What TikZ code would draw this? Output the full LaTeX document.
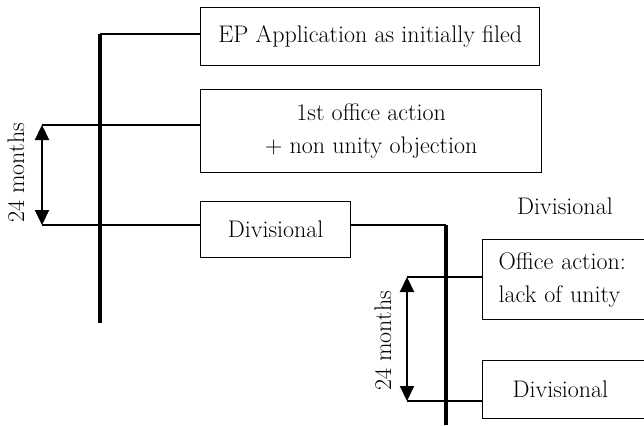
\documentclass[tikz,border=0pt]{standalone}
\usetikzlibrary{arrows.meta}
\begin{document}
\begin{tikzpicture}[x=1pt,y=-1pt,
  box/.style={draw, line width=1.4pt, rectangle, inner sep=0pt, anchor=north west},
  link/.style={line width=1.3pt},
  timeline/.style={line width=3.2pt},
  span/.style={line width=2.2pt, {Triangle[width=14pt,length=15pt]}-{Triangle[width=14pt,length=15pt]}},
  txt/.style={font=\fontsize{24}{33}\selectfont}]
\useasboundingbox (0,0) rectangle (644,425);
\clip (0,0) rectangle (644,425);

% boxes of the parent application
\node[box, minimum width=339, minimum height=58, txt] (ep) at (200,7) {EP Application as initially filed};
\node[box, minimum width=341, minimum height=83, txt, align=center] (oa) at (200,89) {1st office action\\+ non unity objection};
\node[box, minimum width=150, minimum height=56, txt] (div) at (200,201) {Divisional};

% boxes of the divisional application
\node[box, minimum height=80, text width=146, inner xsep=16pt, align=left, txt] (oa2) at (482,239) {Office action:\\lack of unity};
\node[box, minimum height=58, text width=118, inner xsep=30pt, align=left, txt] (div2) at (482,360) {Divisional};
\node[txt] (divlabel) at (565,206) {Divisional};

% period labels
\node[txt, rotate=90] (m1) at (16,173) {24 months};
\node[txt, rotate=90] (m2) at (383,341) {24 months};

% timeline ends and period ends
\coordinate (t1top) at (100,34);
\coordinate (t1bot) at (100,323);
\coordinate (t2top) at (446,225);
\coordinate (t2bot) at (446,425);
\coordinate (s1a) at (42,125);
\coordinate (s1b) at (42,225);
\coordinate (s2a) at (407,277);
\coordinate (s2b) at (407,401);

\draw[timeline] (t1top) -- (t1bot);
\draw[timeline] (t2top) -- (t2bot);
\draw[link] (t1top) -- (ep.west |- t1top);
\draw[link] (s1a) -- (oa.west |- s1a);
\draw[link] (s1b) -- (div.west |- s1b);
\draw[link] (div.east |- s1b) -- (t2top);
\draw[link] (s2a) -- (oa2.west |- s2a);
\draw[link] (s2b) -- (div2.west |- s2b);
\draw[span] (s1a) -- (s1b);
\draw[span] (s2a) -- (s2b);
\end{tikzpicture}
\end{document}
